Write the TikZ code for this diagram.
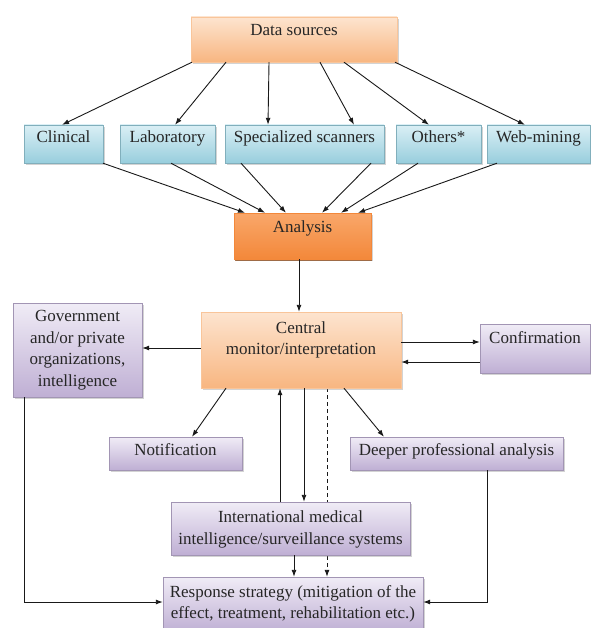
\documentclass[tikz,border=0pt]{standalone}
\usepackage{fontspec}
\setmainfont{Liberation Serif}
\usetikzlibrary{arrows.meta,shadows,backgrounds,calc}
\definecolor{orTop}{HTML}{FDE4CF}
\definecolor{orBot}{HTML}{F8B681}
\definecolor{anTop}{HTML}{F9A76A}
\definecolor{anBot}{HTML}{F3883A}
\definecolor{blTop}{HTML}{DAEFF5}
\definecolor{blBot}{HTML}{98CEDD}
\definecolor{puTop}{HTML}{F0ECF6}
\definecolor{puBot}{HTML}{BFAFD4}
\definecolor{txtc}{HTML}{262626}
\begin{document}
\begin{tikzpicture}[x=1pt,y=-1pt,
  txt/.style={font=\fontsize{17}{21.5}\selectfont, text=txtc, inner sep=0pt, align=center, text height=0.7em, text depth=0.25em},
  mtxt/.style={font=\fontsize{17}{21.5}\selectfont, text=txtc, inner sep=0pt, align=center},
  base/.style={inner sep=0pt, drop shadow={shadow xshift=1.6pt, shadow yshift=-1.6pt, opacity=0.35}},
  obox/.style={base, draw=orBot!80!white, line width=0.4pt, top color=orTop, bottom color=orBot},
  abox/.style={base, draw=anBot, line width=0.4pt, top color=anTop, bottom color=anBot,
     drop shadow={shadow xshift=1.2pt, shadow yshift=-2.2pt, fill=anBot!60!black, opacity=0.8}},
  bbox/.style={base, draw=blBot!85!black, line width=0.4pt, top color=blTop, bottom color=blBot},
  pbox/.style={base, draw=puBot!85!black, line width=0.4pt, top color=puTop, bottom color=puBot},
  arr/.style={draw=black!90, line width=0.9pt, -{Latex[length=7pt,width=5pt]}},
  darr/.style={arr, dashed, dash pattern=on 4pt off 3pt}
]
\useasboundingbox (0,0) rectangle (590,628);

% boxes
\node[obox, minimum width=206pt, minimum height=45pt] (ds) at (294,39.5) {};
\node[bbox, minimum width=79pt, minimum height=38pt] (cli) at (63.5,144) {};
\node[bbox, minimum width=95pt, minimum height=38pt] (lab) at (167.5,144) {};
\node[bbox, minimum width=159pt, minimum height=38pt] (spec) at (304.5,144) {};
\node[bbox, minimum width=85pt, minimum height=38pt] (oth) at (438.5,144) {};
\node[bbox, minimum width=103pt, minimum height=38pt] (web) at (538.5,144) {};
\node[abox, minimum width=137pt, minimum height=46pt] (ana) at (302.5,236) {};
\node[obox, minimum width=200pt, minimum height=76pt] (cen) at (301,350) {};
\node[pbox, minimum width=129pt, minimum height=94pt] (gov) at (77.5,350) {};
\node[pbox, minimum width=110pt, minimum height=49pt] (conf) at (535,348.5) {};
\node[pbox, minimum width=133pt, minimum height=33pt] (noti) at (175.5,453.5) {};
\node[pbox, minimum width=213pt, minimum height=33pt] (deep) at (456.5,453.5) {};
\node[pbox, minimum width=239pt, minimum height=53pt] (intl) at (290.5,528.5) {};
\node[pbox, minimum width=260pt, minimum height=55pt] (resp) at (293,604.5) {};

% texts
\node[txt] (ds-t) at (294,33) {Data sources};
\node[txt] (cli-t) at (63.5,140) {Clinical};
\node[txt] (lab-t) at (167.5,140) {Laboratory};
\node[txt] (spec-t) at (304.5,140) {Specialized scanners};
\node[txt] (oth-t) at (438.5,140) {Others*};
\node[txt] (web-t) at (538.5,140) {Web-mining};
\node[txt] (ana-t) at (302.5,230) {Analysis};
\node[mtxt] (cen-t) at (301,340) {Central\\monitor/interpretation};
\node[mtxt] (gov-t) at (77.5,350) {Government\\and/or private\\organizations,\\intelligence};
\node[txt] (conf-t) at (535,341) {Confirmation};
\node[txt] (noti-t) at (175.5,453.5) {Notification};
\node[txt] (deep-t) at (456.5,453.5) {Deeper professional analysis};
\node[mtxt] (intl-t) at (290.5,529.5) {International medical\\intelligence/surveillance systems};
\node[mtxt] (resp-t) at (293,604) {Response strategy (mitigation of the\\effect, treatment, rehabilitation etc.)};

% data sources -> row
\draw[arr] (192,0 |- ds.south) -- (62,0 |- cli.north);
\draw[arr] (226,0 |- ds.south) -- (175,0 |- lab.north);
\draw[arr] (269,0 |- ds.south) -- (268,0 |- spec.north);
\draw[arr] (320,0 |- ds.south) -- (354,0 |- spec.north);
\draw[arr] (344,0 |- ds.south) -- (429,0 |- oth.north);
\draw[arr] (395,0 |- ds.south) -- (525,0 |- web.north);

% row -> analysis
\draw[arr] (103,0 |- cli.south) -- (245,0 |- ana.north);
\draw[arr] (171,0 |- lab.south) -- (265,0 |- ana.north);
\draw[arr] (241,0 |- spec.south) -- (286,0 |- ana.north);
\draw[arr] (371,0 |- spec.south) -- (322,0 |- ana.north);
\draw[arr] (418,0 |- oth.south) -- (341,0 |- ana.north);
\draw[arr] (497,0 |- web.south) -- (358,0 |- ana.north);

% analysis -> central
\draw[arr] (299,0 |- ana.south) -- (299,0 |- cen.north);

% central <-> sides
\draw[arr] (cen.west |- 0,348) -- (gov.east |- 0,348);
\draw[arr] (cen.east |- 0,342) -- (conf.west |- 0,342);
\draw[arr] (conf.west |- 0,362) -- (cen.east |- 0,362);

% central -> notification / deeper
\draw[arr] (226,0 |- cen.south) -- (192,0 |- noti.north);
\draw[arr] (344,0 |- cen.south) -- (384,0 |- deep.north);

% central <-> international
\draw[arr] (280,0 |- intl.north) -- (280,0 |- cen.south);
\draw[arr] (304,0 |- cen.south) -- (304,0 |- intl.north);
\begin{scope}[on background layer]
\draw[darr] (327,0 |- cen.south) -- (327,0 |- resp.north);
\end{scope}

% to response
\draw[arr] (294,0 |- intl.south) -- (294,0 |- resp.north);
\coordinate (gcorner) at (24,602);
\coordinate (dcorner) at (487,602);
\draw[arr] (24,0 |- gov.south) -- (gcorner) -- (resp.west |- gcorner);
\draw[arr] (487,0 |- deep.south) -- (dcorner) -- (resp.east |- dcorner);
\end{tikzpicture}
\end{document}
